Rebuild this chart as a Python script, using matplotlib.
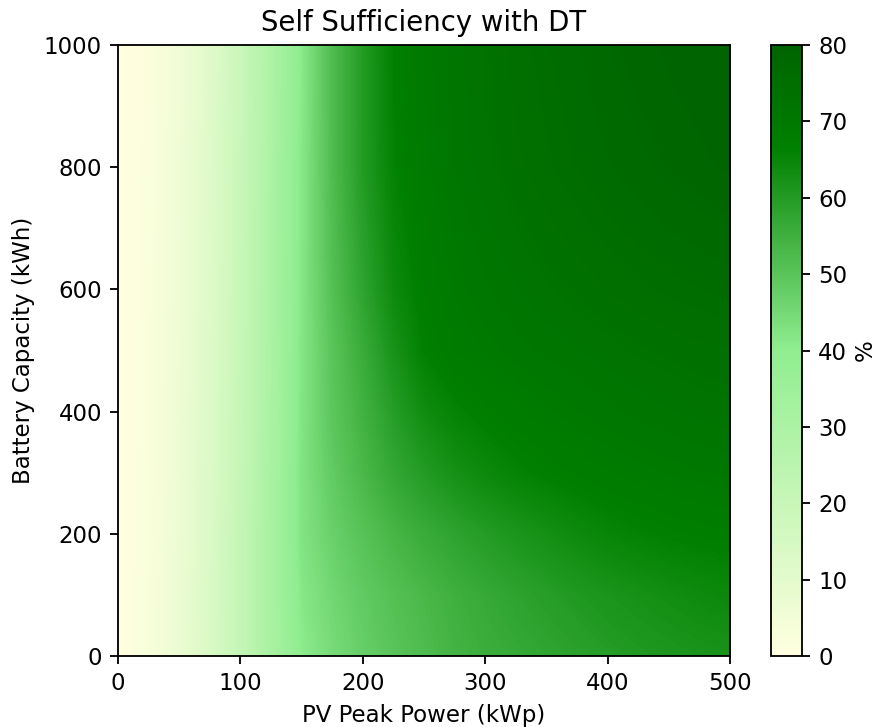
import numpy as np
import matplotlib
matplotlib.use("Agg")
import matplotlib.pyplot as plt
from matplotlib.colors import LinearSegmentedColormap

# PV peak power (kWp) and battery capacity (kWh) grid
pv_kwp = [0, 25, 50, 75, 100, 125, 150, 175, 200, 225, 250,
          275, 300, 325, 350, 375, 400, 425, 450, 475, 500]
battery_kwh = [0, 100, 200, 300, 400, 500, 600, 700, 800, 900, 1000]

# Self sufficiency (%) per battery row, across PV columns
ss_b0 = [0, 2.5, 7.0, 13.5, 21.0, 31.0, 40.5, 44.5, 47.5, 50.0, 52.0,
         54.0, 55.5, 56.5, 57.5, 58.5, 59.5, 60.3, 61.0, 61.6, 62.0]
ss_b100 = [0, 2.4, 6.8, 13.3, 21.0, 31.0, 41.5, 45.5, 48.5, 51.0, 53.0,
           55.0, 56.5, 58.0, 59.3, 60.5, 61.5, 62.4, 63.2, 63.9, 64.5]
ss_b200 = [0, 2.2, 6.5, 13.0, 21.0, 31.0, 42.5, 47.0, 50.5, 53.5, 56.0,
           58.0, 59.8, 61.3, 62.7, 64.0, 65.2, 66.0, 66.6, 67.0, 67.3]
ss_b300 = [0, 2.1, 6.3, 12.6, 20.6, 30.6, 42.5, 48.5, 53.0, 57.0, 60.0,
           62.5, 64.3, 65.7, 66.8, 67.7, 68.4, 69.0, 69.5, 69.9, 70.2]
ss_b400 = [0, 2.0, 6.1, 12.3, 20.3, 30.3, 42.2, 49.5, 54.5, 59.5, 63.5,
           65.8, 67.2, 68.3, 69.2, 70.0, 70.7, 71.3, 71.8, 72.2, 72.5]
ss_b500 = [0, 2.0, 6.0, 12.0, 20.0, 30.0, 42.0, 50.0, 56.0, 62.0, 66.5,
           68.5, 69.5, 70.5, 71.2, 71.8, 72.4, 73.0, 73.4, 73.8, 74.0]
ss_b600 = [0, 1.9, 5.8, 11.8, 19.8, 29.8, 41.8, 51.0, 58.0, 64.0, 67.5,
           69.5, 70.8, 71.8, 72.7, 73.4, 74.1, 74.7, 75.2, 75.6, 76.0]
ss_b700 = [0, 1.8, 5.7, 11.6, 19.6, 29.6, 41.6, 51.5, 59.0, 65.0, 68.2,
           70.2, 71.6, 72.8, 73.8, 74.6, 75.4, 76.0, 76.6, 77.1, 77.5]
ss_b800 = [0, 1.6, 5.5, 11.5, 19.5, 29.5, 41.5, 52.0, 60.0, 66.0, 69.0,
           71.0, 72.5, 73.8, 74.8, 75.7, 76.5, 77.2, 77.9, 78.5, 79.0]
ss_b900 = [0, 1.5, 5.2, 11.2, 19.2, 29.2, 41.2, 52.0, 60.0, 66.3, 69.3,
           71.3, 72.8, 74.2, 75.2, 76.1, 77.0, 77.8, 78.5, 79.0, 79.5]
ss_b1000 = [0, 1.5, 5.0, 11.0, 19.0, 29.0, 41.0, 52.0, 60.0, 66.5, 69.5,
            71.5, 73.0, 74.5, 75.5, 76.5, 77.5, 78.3, 79.0, 79.5, 80.0]

ss = np.array([ss_b0, ss_b100, ss_b200, ss_b300, ss_b400, ss_b500,
               ss_b600, ss_b700, ss_b800, ss_b900, ss_b1000])

x_ticks = [0, 100, 200, 300, 400, 500]
y_ticks = [0, 200, 400, 600, 800, 1000]
cbar_ticks = [0, 10, 20, 30, 40, 50, 60, 70, 80]

cmap = LinearSegmentedColormap.from_list(
    "ss_greens",
    [(0.0, "lightyellow"), (0.5, "lightgreen"), (0.833, "green"), (1.0, "darkgreen")],
)

dpi = 165
fig = plt.figure(figsize=(876 / dpi, 727 / dpi), dpi=dpi)
ax = fig.add_axes([118 / 876, 1 - 656 / 727, 612 / 876, 611 / 727])
cax = fig.add_axes([771 / 876, 1 - 656 / 727, 31 / 876, 611 / 727])

dx = (pv_kwp[1] - pv_kwp[0]) / 2
dy = (battery_kwh[1] - battery_kwh[0]) / 2
im = ax.imshow(
    ss, origin="lower", cmap=cmap, vmin=0, vmax=80, aspect="auto",
    interpolation="bilinear", interpolation_stage="data",
    extent=[pv_kwp[0] - dx, pv_kwp[-1] + dx, battery_kwh[0] - dy, battery_kwh[-1] + dy],
)
ax.set_xlim(pv_kwp[0], pv_kwp[-1])
ax.set_ylim(battery_kwh[0], battery_kwh[-1])
ax.set_xticks(x_ticks)
ax.set_yticks(y_ticks)
ax.set_xlabel("PV Peak Power (kWp)")
ax.set_ylabel("Battery Capacity (kWh)")
ax.set_title("Self Sufficiency with DT")

cb = fig.colorbar(im, cax=cax, ticks=cbar_ticks)
cb.set_label("%", labelpad=3)

fig.savefig("out.png", dpi=dpi)
